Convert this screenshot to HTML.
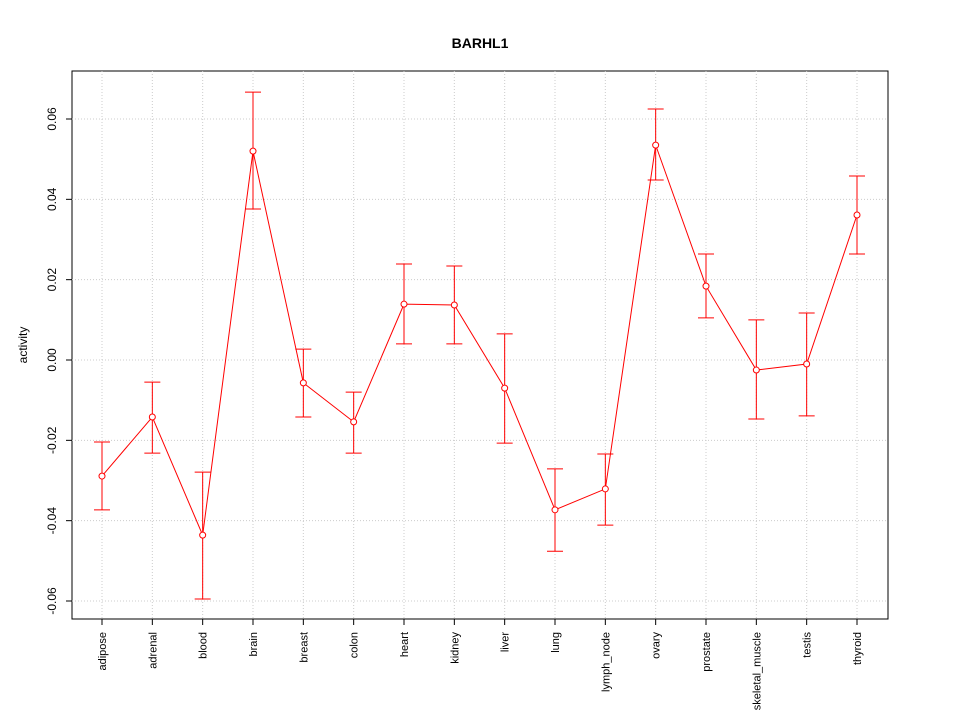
<!DOCTYPE html>
<html><head><meta charset="utf-8"><style>
body{margin:0;background:#fff}
svg text{font-family:"Liberation Sans",sans-serif;fill:#000}
</style></head><body>
<svg id="chart" width="960" height="720">
<text x="480" y="48" text-anchor="middle" font-size="14" font-weight="bold">BARHL1</text>
<rect x="72" y="71" width="816" height="548" fill="none" stroke="#000"/>
<text transform="translate(27,345) rotate(-90)" text-anchor="middle" font-size="12">activity</text>
<g id="grid"></g><g id="axes"></g><g id="marks"></g>
</svg>
<script>
const categories=["adipose","adrenal","blood","brain","breast","colon","heart","kidney","liver","lung","lymph_node","ovary","prostate","skeletal_muscle","testis","thyroid"];
const values=[-0.0289,-0.0142,-0.0436,0.052,-0.0057,-0.0154,0.0139,0.0137,-0.007,-0.0373,-0.0321,0.0535,0.0184,-0.0025,-0.001,0.0361];
const upper=[-0.0204,-0.0055,-0.0279,0.0667,0.0027,-0.008,0.0239,0.0234,0.0065,-0.0271,-0.0234,0.0625,0.0264,0.01,0.0117,0.0458];
const lower=[-0.0373,-0.0232,-0.0595,0.0376,-0.0142,-0.0232,0.004,0.004,-0.0207,-0.0476,-0.0411,0.0448,0.0105,-0.0147,-0.0139,0.0264];
const yTicks=[-0.06,-0.04,-0.02,0.00,0.02,0.04,0.06];
const yTickLabels=["-0.06","-0.04","-0.02","0.00","0.02","0.04","0.06"];
const NS="http://www.w3.org/2000/svg";
const xS=i=>102+i*(755/(categories.length-1));
const yS=v=>360-v*4016.7;
function mk(tag,attrs,parent){const e=document.createElementNS(NS,tag);for(const k in attrs)e.setAttribute(k,attrs[k]);document.getElementById(parent).appendChild(e);return e;}
yTicks.forEach((t,i)=>{
 const g=mk("line",{x1:72,x2:888,y1:yS(t),y2:yS(t),stroke:"#ccc","stroke-dasharray":"1,2"},"grid");
 
 
 const tk=mk("line",{x1:66,x2:72,y1:yS(t),y2:yS(t),stroke:"#000"},"axes");
 
 
 const tx=mk("text",{transform:`translate(56,${yS(t)}) rotate(-90)`,"text-anchor":"middle","font-size":"12"},"axes");
 tx.textContent=yTickLabels[i];
 
 
});
categories.forEach((c,i)=>{
 const x=xS(i);
 const g=mk("line",{x1:x,x2:x,y1:71,y2:619,stroke:"#ccc","stroke-dasharray":"1,2"},"grid");
 
 
 const tk=mk("line",{x1:x,x2:x,y1:619,y2:625,stroke:"#000"},"axes");
 
 
 const tx=mk("text",{transform:`translate(${x+4},632) rotate(-90)`,"text-anchor":"end","font-size":"11"},"axes");
 tx.textContent=c;
 
 
});
const pts=values.map((v,i)=>xS(i)+","+yS(v)).join(" ");
const pl=mk("polyline",{points:pts,fill:"none",stroke:"#f00","stroke-width":1},"marks");


values.forEach((v,i)=>{
 const x=xS(i);
 const e=mk("path",{d:`M${x},${yS(upper[i])}V${yS(lower[i])}M${x-8},${yS(upper[i])}H${x+8}M${x-8},${yS(lower[i])}H${x+8}`,stroke:"#f00",fill:"none"},"marks");
 
 
 const p=mk("circle",{cx:x,cy:yS(v),r:3,fill:"#fff",stroke:"#f00"},"marks");
 
 
});
</script>
</body></html>
